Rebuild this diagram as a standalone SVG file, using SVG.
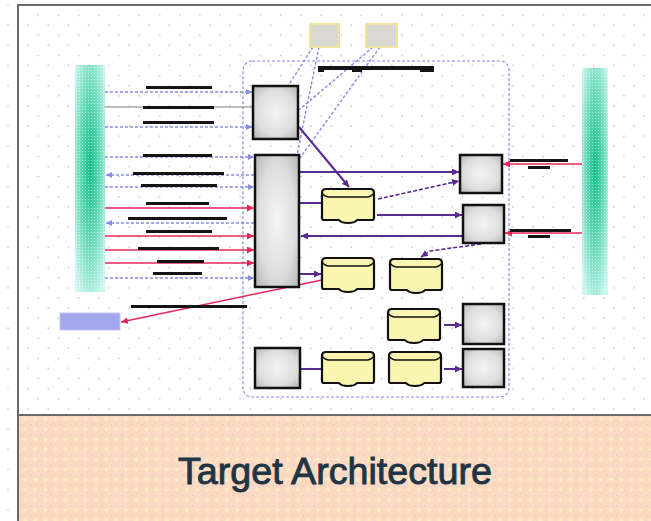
<svg xmlns="http://www.w3.org/2000/svg" width="651" height="521" viewBox="0 0 651 521">
  <style>
    .frame { stroke: #6a6a6a; stroke-width: 2; fill: none; }
    .box { stroke: #111; stroke-width: 2.5; fill: url(#boxFill); }
    .store { stroke: #111; stroke-width: 2.2; fill: #fbf5b2; stroke-linejoin: round; }
    .lid { stroke: #111; stroke-width: 1.4; fill: none; }
    .ext { fill: #d9d8d2; stroke: #f1e39c; stroke-width: 2; }
    .bar { fill: #141414; }
    .flow { stroke: #5a2a94; stroke-width: 2; fill: none; }
    .flow-d { stroke: #5a2a94; stroke-width: 1.6; fill: none; stroke-dasharray: 4 2; }
    .feed { stroke: #8a8ae6; stroke-width: 1.4; fill: none; stroke-dasharray: 3 2; }
    .feed-g { stroke: #a8a8a8; stroke-width: 1.4; fill: none; }
    .hot { stroke: #e4285a; stroke-width: 1.6; fill: none; }
    .title { font-family: "Liberation Sans", Arial, sans-serif; font-size: 37px; fill: #1f3444; stroke: #1f3444; stroke-width: 0.9; }
  </style>
  <defs>
    <pattern id="grid" width="20.2" height="20.2" patternUnits="userSpaceOnUse">
      <rect x="17.4" y="14.4" width="1.3" height="1.3" fill="#b4b4b4"/>
      <rect x="7.3" y="4.3" width="1.3" height="1.3" fill="#b4b4b4"/>
    </pattern>
    <pattern id="band" width="10.1" height="10.1" patternUnits="userSpaceOnUse">
      <rect width="10.1" height="10.1" fill="#fcd9c2"/>
      <path d="M5 2.5 V7.5 M2.5 5 H7.5" stroke="#fff1c4" stroke-width="1.2"/>
      <rect x="0" y="0" width="1.2" height="1.2" fill="#c9cbb8"/>
    </pattern>
    <pattern id="dither" width="3" height="3" patternUnits="userSpaceOnUse">
      <rect x="1" y="1" width="1" height="1" fill="#ffffff" opacity="0.55"/>
    </pattern>
    <radialGradient id="sys" cx="50%" cy="45%" r="65%">
      <stop offset="0" stop-color="#10bf86"/>
      <stop offset="0.45" stop-color="#5cd6b4"/>
      <stop offset="1" stop-color="#cbf5f0"/>
    </radialGradient>
    <radialGradient id="boxFill" cx="50%" cy="50%" r="70%">
      <stop offset="0" stop-color="#f5f5f5"/>
      <stop offset="0.6" stop-color="#dedede"/>
      <stop offset="1" stop-color="#b4b4b4"/>
    </radialGradient>
    <path id="storeShape" d="M2,5 Q2,1 6,1 L50,1 Q54,1 54,5 L54,30 Q54,32 52,32 L37,32 Q35,35 28,35 Q21,35 19,32 L4,32 Q2,32 2,30 Z"/>
    <path id="lidLine" d="M2,5 Q5,9 9,9 L47,9 Q51,9 54,5"/>
    <marker id="ap" viewBox="0 0 8 8" refX="8" refY="4" markerWidth="7" markerHeight="7" markerUnits="userSpaceOnUse" orient="auto">
      <path d="M0,0 L8,4 L0,8 Z" fill="#5a2a94"/>
    </marker>
    <marker id="ab" viewBox="0 0 8 8" refX="8" refY="4" markerWidth="6" markerHeight="6" markerUnits="userSpaceOnUse" orient="auto">
      <path d="M0,0 L8,4 L0,8 Z" fill="#8a8ae6"/>
    </marker>
    <marker id="ar" viewBox="0 0 8 8" refX="8" refY="4" markerWidth="7" markerHeight="7" markerUnits="userSpaceOnUse" orient="auto">
      <path d="M0,0 L8,4 L0,8 Z" fill="#e4285a"/>
    </marker>
  </defs>

  <!-- page background and dot grid -->
  <rect width="651" height="521" fill="#ffffff"/>
  <rect width="651" height="521" fill="url(#grid)"/>

  <!-- title band -->
  <rect x="18" y="415" width="633" height="106" fill="url(#band)"/>
  <path class="frame" d="M18,521 V5 H651 M18,415 H651"/>

  <!-- container -->
  <rect id="container" x="243" y="61" width="266" height="336" rx="9" fill="none" stroke="#8a8ae6" stroke-width="1.2" stroke-dasharray="3 2"/>

  <!-- connectors -->
  <g id="connectors">
    <!-- feeds from source system (left) -->
    <path class="feed" d="M105,92 H252" marker-end="url(#ab)"/>
    <path class="feed-g" d="M105,107 H252"/>
    <path class="feed" d="M105,127 H252" marker-end="url(#ab)"/>
    <path class="feed" d="M105,157 H254" marker-end="url(#ab)"/>
    <path class="feed" d="M254,175 H106" marker-end="url(#ab)"/>
    <path class="feed" d="M105,187 H254" marker-end="url(#ab)"/>
    <path class="hot" d="M105,208 H254" marker-end="url(#ar)"/>
    <path class="feed" d="M254,223 H106" marker-end="url(#ab)"/>
    <path class="hot" d="M105,236 H254" marker-end="url(#ar)"/>
    <path class="hot" d="M105,250 H254" marker-end="url(#ar)"/>
    <path class="hot" d="M105,263 H254" marker-end="url(#ar)"/>
    <path class="feed" d="M105,278 H254" marker-end="url(#ab)"/>

    <!-- links from the two external sources on top -->
    <path class="feed" d="M313,47 L288,86"/>
    <path class="feed" d="M319,47 L297,155"/>
    <path class="feed" d="M373,47 L299,110"/>
    <path class="feed" d="M380,47 L300,158"/>

    <!-- internal flows -->
    <path class="flow" d="M299,127 L349,187" marker-end="url(#ap)"/>
    <path class="flow" d="M300,172 H459" marker-end="url(#ap)"/>
    <path class="flow-d" d="M378,199 L459,181" marker-end="url(#ap)"/>
    <path class="flow" d="M300,203 H321"/>
    <path class="flow" d="M377,215 H462" marker-end="url(#ap)"/>
    <path class="flow" d="M463,236 H301" marker-end="url(#ap)"/>
    <path class="flow-d" d="M481,244 L430,251 L421,257" marker-end="url(#ap)"/>
    <path class="flow" d="M300,274 H321" marker-end="url(#ap)"/>
    <path class="flow" d="M444,325 H462" marker-end="url(#ap)"/>
    <path class="flow" d="M300,369 H321"/>
    <path class="flow" d="M444,369 H462" marker-end="url(#ap)"/>

    <!-- outbound and target system links -->
    <path class="hot" d="M322,280 L121,322" marker-end="url(#ar)"/>
    <path class="hot" d="M582,164 H503" marker-end="url(#ar)"/>
    <path class="hot" d="M582,233 H505" marker-end="url(#ar)"/>
  </g>

  <!-- connector labels -->
  <g id="labels">
    <rect class="bar" x="146" y="86" width="66" height="3"/>
    <rect class="bar" x="143" y="106" width="71" height="3"/>
    <rect class="bar" x="143" y="121" width="71" height="3"/>
    <rect class="bar" x="143" y="154" width="69" height="3"/>
    <rect class="bar" x="133" y="172" width="91" height="3"/>
    <rect class="bar" x="141" y="184" width="76" height="3"/>
    <rect class="bar" x="146" y="202" width="63" height="3"/>
    <rect class="bar" x="128" y="217" width="99" height="3"/>
    <rect class="bar" x="146" y="230" width="66" height="3"/>
    <rect class="bar" x="138" y="247" width="81" height="3"/>
    <rect class="bar" x="157" y="260" width="47" height="3"/>
    <rect class="bar" x="153" y="272" width="49" height="3"/>
    <rect class="bar" x="131" y="305" width="116" height="3"/>
    <rect class="bar" x="510" y="159" width="58" height="3"/>
    <rect class="bar" x="528" y="166" width="22" height="3"/>
    <rect class="bar" x="510" y="229" width="61" height="3"/>
    <rect class="bar" x="528" y="235" width="22" height="3"/>
    <!-- container caption -->
    <rect class="bar" x="318" y="66" width="116" height="4"/>
    <rect class="bar" x="318" y="66" width="6" height="6"/>
    <rect class="bar" x="352" y="67" width="10" height="5"/>
    <rect class="bar" x="420" y="66" width="14" height="6"/>
  </g>

  <!-- source system -->
  <g id="source-system">
    <rect x="75" y="65" width="30" height="227" fill="url(#sys)"/>
    <rect x="75" y="65" width="30" height="227" fill="url(#dither)"/>
  </g>

  <!-- target system -->
  <g id="target-system">
    <rect x="582" y="68" width="26" height="227" fill="url(#sys)"/>
    <rect x="582" y="68" width="26" height="227" fill="url(#dither)"/>
  </g>

  <!-- external sources above the container -->
  <g id="ext-1"><rect class="ext" x="310" y="24" width="29" height="23"/></g>
  <g id="ext-2"><rect class="ext" x="366" y="24" width="31" height="23"/></g>

  <!-- outbound consumer -->
  <g id="consumer"><rect x="60" y="313" width="60" height="17" fill="#a3a7ec" stroke="#c6c8f4" stroke-width="1"/></g>

  <!-- processing components -->
  <g id="node-a"><rect class="box" x="253" y="86" width="45" height="53"/></g>
  <g id="node-b"><rect class="box" x="255" y="155" width="44" height="132"/></g>
  <g id="node-c"><rect class="box" x="460" y="155" width="42" height="38"/></g>
  <g id="node-d"><rect class="box" x="463" y="205" width="41" height="38"/></g>
  <g id="node-k"><rect class="box" x="255" y="348" width="45" height="40"/></g>
  <g id="node-l"><rect class="box" x="463" y="304" width="41" height="40"/></g>
  <g id="node-m"><rect class="box" x="463" y="349" width="41" height="38"/></g>

  <!-- data stores -->
  <g id="store-e" transform="translate(320,188)"><use href="#storeShape" class="store"/><use href="#lidLine" class="lid"/></g>
  <g id="store-f" transform="translate(320,257)"><use href="#storeShape" class="store"/><use href="#lidLine" class="lid"/></g>
  <g id="store-g" transform="translate(388,258)"><use href="#storeShape" class="store"/><use href="#lidLine" class="lid"/></g>
  <g id="store-h" transform="translate(386,308)"><use href="#storeShape" class="store"/><use href="#lidLine" class="lid"/></g>
  <g id="store-i" transform="translate(320,351)"><use href="#storeShape" class="store"/><use href="#lidLine" class="lid"/></g>
  <g id="store-j" transform="translate(387,351)"><use href="#storeShape" class="store"/><use href="#lidLine" class="lid"/></g>

  <!-- title -->
  <text class="title" x="178" y="484" textLength="314" lengthAdjust="spacingAndGlyphs">Target Architecture</text>
</svg>
